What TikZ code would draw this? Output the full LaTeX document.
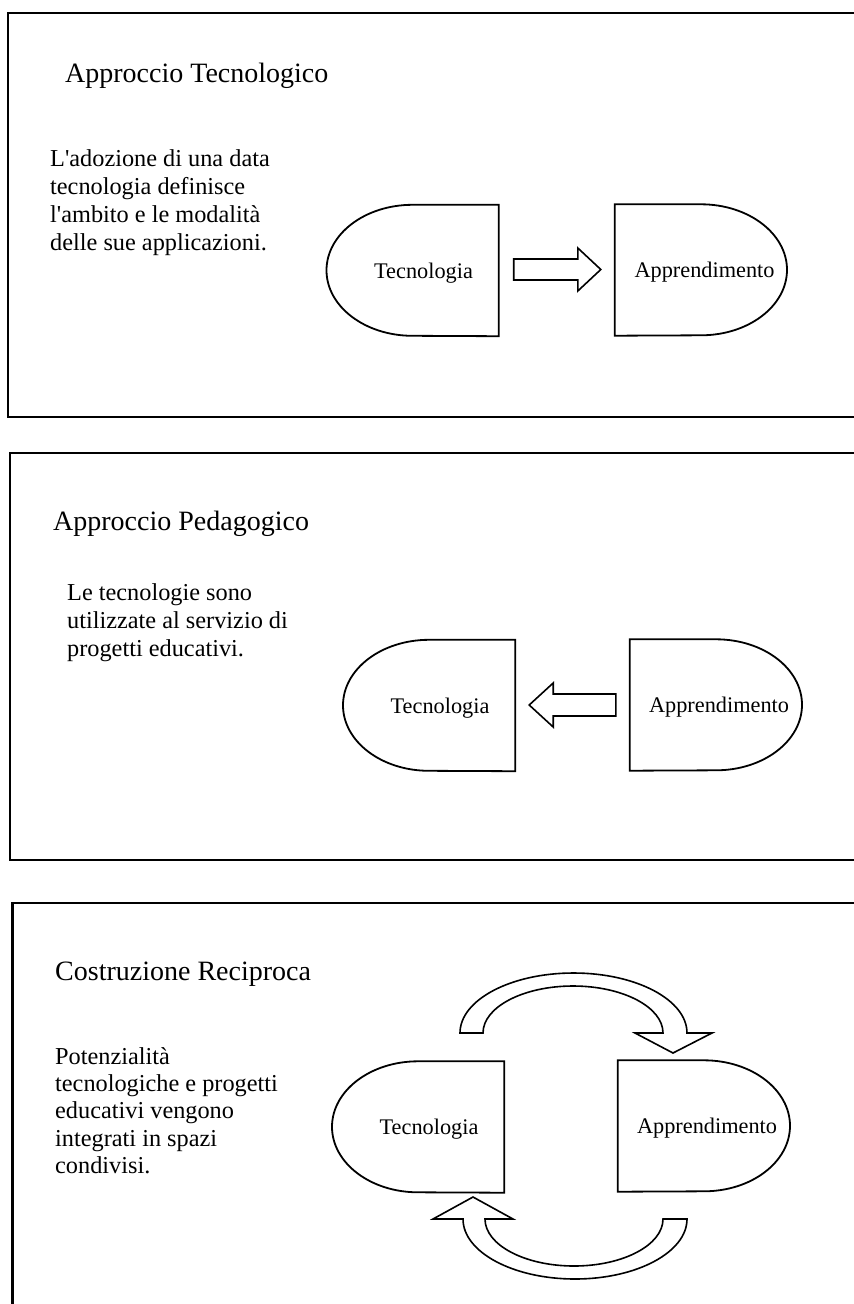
\documentclass[tikz,border=0pt]{standalone}
\usepackage{fontspec}
\setmainfont{Liberation Serif}
\usetikzlibrary{calc}
\tikzset{
  panel/.style={line width=2.3pt},
  shp/.style={draw, line width=1.8pt, fill=white},
  barrow/.style={draw, line width=1.6pt, fill=white, line join=miter},
  carrow/.style={draw, line width=1.6pt, fill=white, line join=miter},
  ttl/.style={anchor=base west, inner sep=0pt, font=\fontsize{28}{32}\selectfont},
  body/.style={anchor=base west, inner sep=0pt, font=\fontsize{24.3}{28}\selectfont},
  lbl/.style={anchor=base, inner sep=0pt, font=\fontsize{22.3}{26}\selectfont},
  box/.style={draw=none, minimum width=172pt, minimum height=131pt, inner sep=0pt},
}
\newcommand{\tecshape}[1]{\draw[shp] (#1.north east) -- (#1.north) arc[start angle=90,end angle=270,x radius=86pt,y radius=65.5pt] -- (#1.south east) -- cycle;}
\newcommand{\appshape}[1]{\draw[shp] (#1.north west) -- (#1.north) arc[start angle=90,end angle=-90,x radius=86pt,y radius=65.5pt] -- (#1.south west) -- cycle;}
\begin{document}
\begin{tikzpicture}[x=1pt,y=1pt]
\useasboundingbox (0,0) rectangle (854,-1304);
\fill[white] (0,0) rectangle (854,-1304);

% ---------- Panel 1 ----------
\draw[panel] (854,-13) -- (8,-13) -- (8,-417) -- (854,-417);
\node[ttl] (p1title) at (65,-82) {Approccio Tecnologico};
\node[body] (p1a) at (50,-166) {L\textquotesingle adozione di una data};
\node[body] (p1b) at (50,-194) {tecnologia definisce};
\node[body] (p1c) at (50,-222) {l\textquotesingle ambito e le modalità};
\node[body] (p1d) at (50,-250) {delle sue applicazioni.};

\node[box] (t1) at (412.5,-270.5) {};
\tecshape{t1}
\node[lbl] (t1l) at ($(t1.center)+(11,-7.5)$) {Tecnologia};
\node[box] (a1) at (701,-270) {};
\appshape{a1}
\node[lbl] (a1l) at ($(a1.center)+(3.5,-7.5)$) {Apprendimento};

\draw[barrow] let \p1=($(t1.east)+(15,1)$), \p2=($(a1.west)+(-14,0)$) in
  (\x1,\y1+10.5pt) -- (\x2-23pt,\y1+10.5pt) -- (\x2-23pt,\y1+21.5pt) -- (\x2,\y1)
  -- (\x2-23pt,\y1-21.5pt) -- (\x2-23pt,\y1-10.5pt) -- (\x1,\y1-10.5pt) -- cycle;

% ---------- Panel 2 ----------
\draw[panel] (854,-453) -- (10,-453) -- (10,-860) -- (854,-860);
\node[ttl] (p2title) at (53,-530) {Approccio Pedagogico};
\node[body] (p2a) at (67,-600) {Le tecnologie sono};
\node[body] (p2b) at (67,-628) {utilizzate al servizio di};
\node[body] (p2c) at (67,-656) {progetti educativi.};

\node[box] (t2) at (429,-705.5) {};
\tecshape{t2}
\node[lbl] (t2l) at ($(t2.center)+(11,-7.5)$) {Tecnologia};
\node[box] (a2) at (716,-705) {};
\appshape{a2}
\node[lbl] (a2l) at ($(a2.center)+(3,-7.5)$) {Apprendimento};

\draw[barrow] let \p1=($(a2.west)+(-14,0)$), \p2=($(t2.east)+(14,0.5)$) in
  (\x1,\y1+11pt) -- (\x2+24pt,\y1+11pt) -- (\x2+24pt,\y1+22pt) -- (\x2,\y1)
  -- (\x2+24pt,\y1-22pt) -- (\x2+24pt,\y1-11pt) -- (\x1,\y1-11pt) -- cycle;

% ---------- Panel 3 ----------
\draw[panel] (854,-903) -- (12.5,-903) -- (12.5,-1304);
\node[ttl] (p3title) at (55,-980) {Costruzione Reciproca};
\node[body] (p3a) at (55,-1064) {Potenzialità};
\node[body] (p3b) at (55,-1091) {tecnologiche e progetti};
\node[body] (p3c) at (55,-1118) {educativi vengono};
\node[body] (p3d) at (55,-1146) {integrati in spazi};
\node[body] (p3e) at (55,-1173) {condivisi.};

\node[box] (t3) at (418,-1127) {};
\tecshape{t3}
\node[lbl] (t3l) at ($(t3.center)+(11,-7.5)$) {Tecnologia};
\node[box] (a3) at (704,-1126) {};
\appshape{a3}
\node[lbl] (a3l) at ($(a3.center)+(3,-7.5)$) {Apprendimento};

% curved arrow over the top: Tecnologia -> Apprendimento
\draw[carrow] (460,-1033) arc[start angle=180,end angle=0,x radius=113.5pt,y radius=60pt]
  -- (712,-1033) -- (673,-1053) -- (635,-1033) -- (663,-1033)
  arc[start angle=0,end angle=180,x radius=90pt,y radius=47pt] -- cycle;
% curved arrow underneath: Apprendimento -> Tecnologia
\draw[carrow] (687,-1219) arc[start angle=0,end angle=-180,x radius=112pt,y radius=60pt]
  -- (433,-1219) -- (473,-1197) -- (513,-1219) -- (485,-1219)
  arc[start angle=180,end angle=360,x radius=89pt,y radius=47pt] -- cycle;
\end{tikzpicture}
\end{document}
